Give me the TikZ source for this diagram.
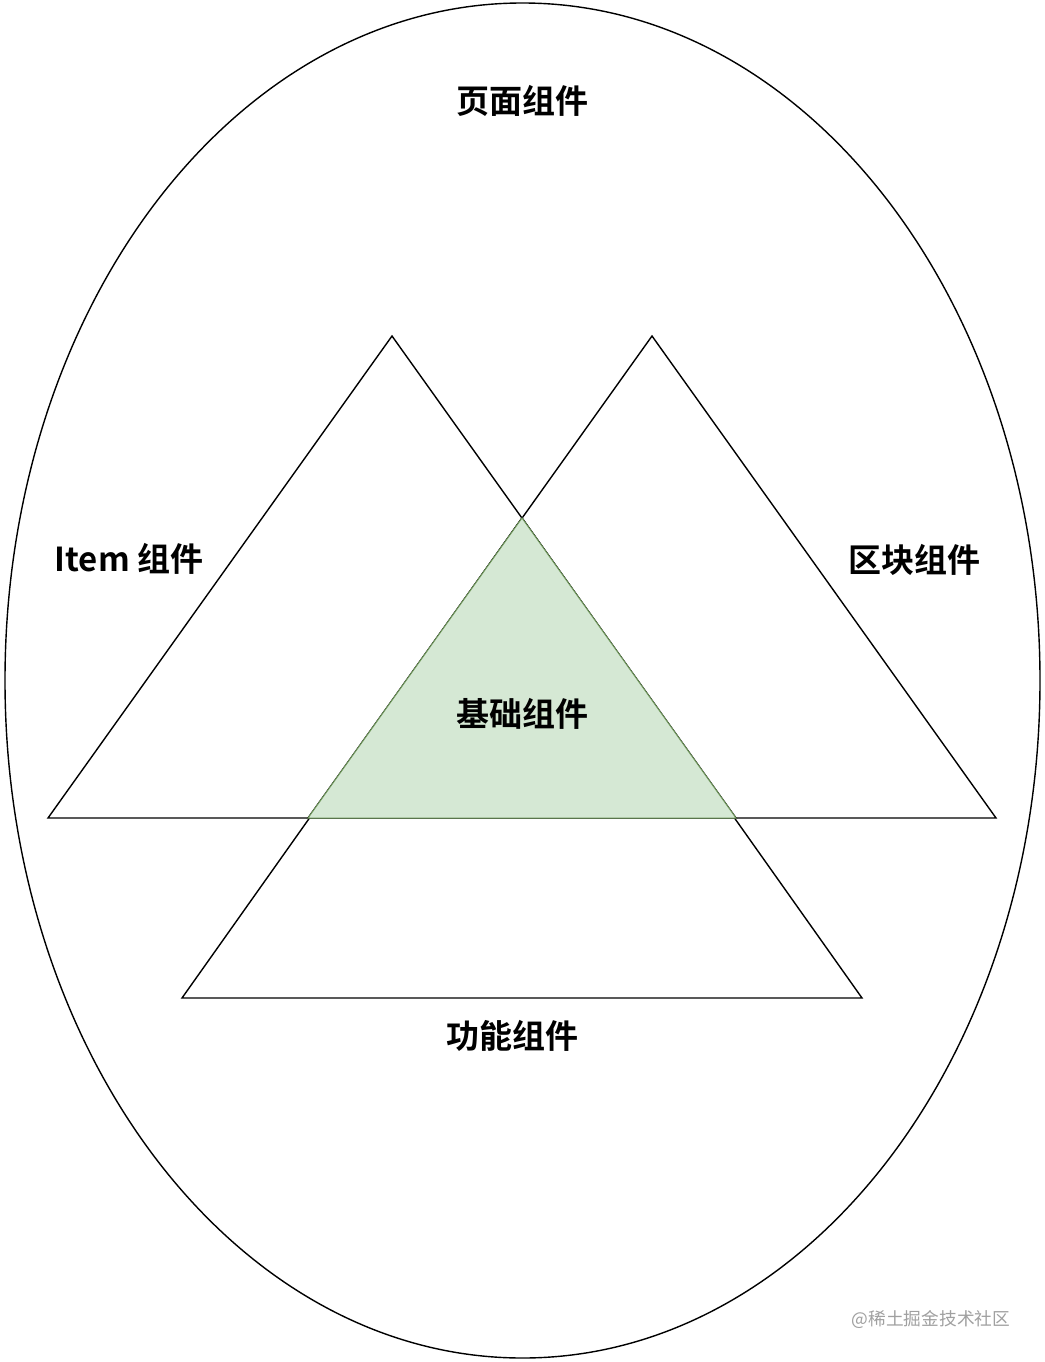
\documentclass[tikz,border=0pt]{standalone}
\usepackage{fontspec}
\newfontfamily\cjk{Noto Sans CJK SC}
\newfontfamily\cjkb{Noto Sans CJK SC Bold}
\begin{document}
\begin{tikzpicture}[x=1pt,y=-1pt,
  lbl/.style={font=\cjkb\fontsize{33}{38}\selectfont, text=black, inner sep=0pt},
  tri/.style={draw=black, line width=1.4pt, line join=miter}]
\useasboundingbox (0,0) rectangle (1044,1362);
\fill[white] (0,0) rectangle (1044,1362);
\draw[line width=1.4pt] (522.5,680.5) ellipse [x radius=517.5, y radius=677.5];
\coordinate (L1) at (48,818); \coordinate (L2) at (392,336); \coordinate (L3) at (736,818);
\coordinate (R1) at (308,818); \coordinate (R2) at (652,336); \coordinate (R3) at (996,818);
\coordinate (B1) at (182,998); \coordinate (B2) at (522,518); \coordinate (B3) at (862,998);
\draw[tri] (L1) -- (L2) -- (L3) -- cycle;
\draw[tri] (R1) -- (R2) -- (R3) -- cycle;
\draw[tri] (B1) -- (B2) -- (B3) -- cycle;
\draw[fill={rgb,255:red,213;green,232;blue,212}, draw={rgb,255:red,110;green,150;blue,90}, line width=1pt] (B2) -- (R1) -- (L3) -- cycle;
\node[lbl] (page) at (522,101) {页面组件};
\node[lbl] (item) at (129,559) {Item 组件};
\node[lbl] (block) at (914,560) {区块组件};
\node[lbl] (base) at (522,714) {基础组件};
\node[lbl] (func) at (512,1036) {功能组件};
\node[font=\cjk\fontsize{17.7}{20}\selectfont, text={rgb,255:red,160;green,160;blue,160}, inner sep=0pt] (wm) at (931,1320) {@稀土掘金技术社区};
\end{tikzpicture}
\end{document}
